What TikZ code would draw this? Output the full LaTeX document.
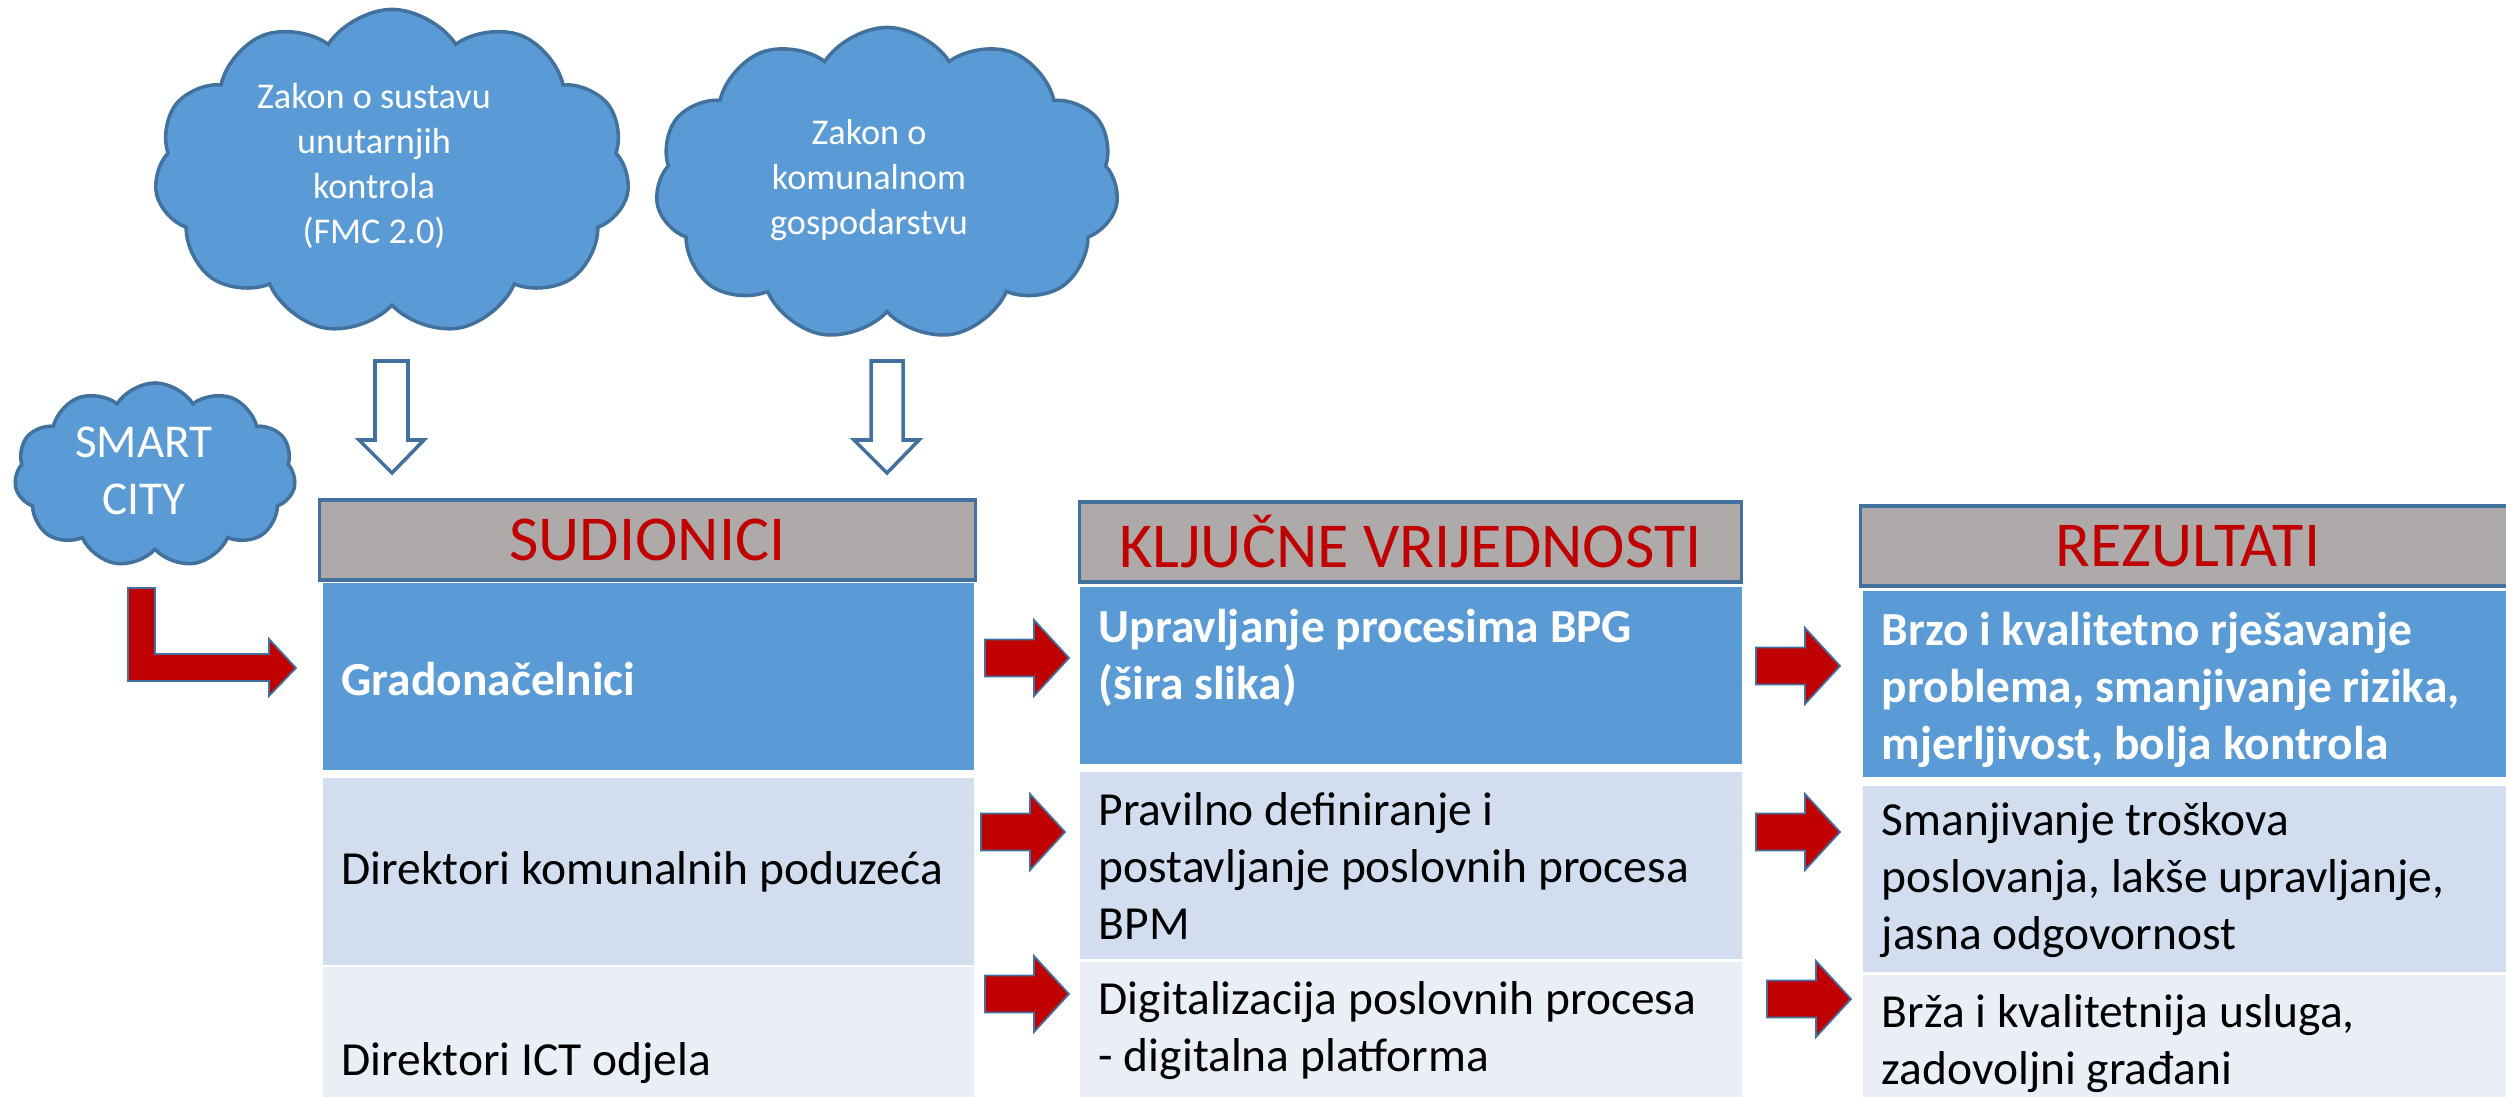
\documentclass[tikz,border=0pt]{standalone}
\usepackage{fontspec}
\setmainfont{Carlito}
\usetikzlibrary{shapes.symbols}
\definecolor{cloudblue}{HTML}{5B9BD5}
\definecolor{edgeblue}{HTML}{41719C}
\definecolor{hdrgray}{HTML}{AEAAAA}
\definecolor{darkred}{HTML}{C00000}
\definecolor{rowmid}{HTML}{D2DEEF}
\definecolor{rowlight}{HTML}{EAEFF7}
\begin{document}
\begin{tikzpicture}[x=0.01cm,y=-0.01cm,
  cloudshape/.style={cloud, cloud puffs=11, cloud puff arc=115, cloud ignores aspect, fill=cloudblue, draw=edgeblue, line width=1pt, inner sep=0pt, outer sep=0pt},
  cloudtext/.style={text=white, align=center, inner sep=0pt, font=\fontsize{10.3}{12.8}\selectfont},
  hdr/.style={rectangle, fill=hdrgray, draw=edgeblue, line width=0.9pt, text=darkred, inner sep=0pt, outer sep=0pt, font=\fontsize{18.2}{20}\selectfont},
  rowbox/.style={rectangle, anchor=north west, inner sep=0pt, outer sep=0pt},
  rowtext/.style={anchor=west, inner sep=0pt, align=left, font=\fontsize{13.5}{16.2}\selectfont},
  hollowarr/.style={fill=white, draw=edgeblue, line width=1pt, line join=miter},
  redarr/.pic={\path[fill=darkred, draw=edgeblue, line width=0.5pt] (0,-18.5) -- (49,-18.5) -- (49,-38) -- (84,0) -- (49,38) -- (49,18.5) -- (0,18.5) -- cycle;}
]
\useasboundingbox (0,0) rectangle (2506,1097);
\clip (0,0) rectangle (2506,1097);

% clouds
\node[cloudshape, minimum width=4.75cm, minimum height=3.25cm] (c1) at (392,172) {};
\node[cloudtext] (c1t) at (374,166) {Zakon o sustavu\\unutarnjih\\kontrola\\(FMC 2.0)};
\node[cloudshape, minimum width=4.63cm, minimum height=3.13cm] (c2) at (887,184) {};
\node[cloudtext] (c2t) at (869,180) {Zakon o\\komunalnom\\gospodarstvu};
\node[cloudshape, minimum width=2.81cm, minimum height=1.84cm] (c3) at (155,475) {};
\node[cloudtext, font=\fontsize{13.4}{16.2}\selectfont] (c3t) at (144,471) {SMART\\CITY};

% hollow arrows
\path[hollowarr] (375,361) -- (408,361) -- (408,440) -- (424,440) -- (392,473) -- (359,440) -- (375,440) -- cycle;
\path[hollowarr] (871,361) -- (903,361) -- (903,440) -- (919,440) -- (887,473) -- (854,440) -- (871,440) -- cycle;

% headers
\node[hdr, minimum width=6.55cm, minimum height=0.8cm] (h1) at (647.5,540) {SUDIONICI};
\node[hdr, minimum width=6.61cm, minimum height=0.8cm] (h2) at (1410.5,542) {KLJUČNE VRIJEDNOSTI};
\node[hdr, minimum width=6.54cm, minimum height=0.8cm] (h3) at (2188,546) {REZULTATI};

% column 1
\node[rowbox, fill=cloudblue, minimum width=6.51cm, minimum height=1.87cm] (r11) at (323,583) {};
\node[rowbox, fill=rowmid, minimum width=6.51cm, minimum height=1.87cm] (r12) at (323,778) {};
\node[rowbox, fill=rowlight, minimum width=6.51cm, minimum height=1.9cm] (r13) at (323,967) {};
\node[rowtext, text=white, font=\fontsize{13.5}{16.2}\selectfont\bfseries] (t11) at (341,679) {Gradonačelnici};
\node[rowtext] (t12) at (341,872) {Direktori komunalnih poduzeća};
\node[rowtext] (t13) at (341,1063) {Direktori ICT odjela};

% column 2
\node[rowbox, fill=cloudblue, minimum width=6.62cm, minimum height=1.77cm] (r21) at (1080,587) {};
\node[rowbox, fill=rowmid, minimum width=6.62cm, minimum height=1.87cm] (r22) at (1080,772) {};
\node[rowbox, fill=rowlight, minimum width=6.62cm, minimum height=1.9cm] (r23) at (1080,962) {};
\node[rowtext, text=white, font=\fontsize{13.5}{16.2}\selectfont\bfseries] (t21) at (1098,658) {Upravljanje procesima BPG\\(šira slika)};
\node[rowtext] (t22) at (1098,866) {Pravilno definiranje i\\postavljanje poslovnih procesa\\BPM};
\node[rowtext] (t23) at (1098,1031) {Digitalizacija poslovnih procesa\\- digitalna platforma};

% column 3
\node[rowbox, fill=cloudblue, minimum width=6.52cm, minimum height=1.86cm] (r31) at (1863,591) {};
\node[rowbox, fill=rowmid, minimum width=6.52cm, minimum height=1.86cm] (r32) at (1863,786) {};
\node[rowbox, fill=rowlight, minimum width=6.52cm, minimum height=1.9cm] (r33) at (1863,975) {};
\node[rowtext, text=white, font=\fontsize{13.5}{16.2}\selectfont\bfseries] (t31) at (1881,690) {Brzo i kvalitetno rješavanje\\problema, smanjivanje rizika,\\mjerljivost, bolja kontrola};
\node[rowtext] (t32) at (1881,880) {Smanjivanje troškova\\poslovanja, lakše upravljanje,\\jasna odgovornost};
\node[rowtext] (t33) at (1881,1044) {Brža i kvalitetnija usluga,\\zadovoljni građani};

% red arrows
\pic at (985,658) {redarr};
\pic at (981,832) {redarr};
\pic at (985,994) {redarr};
\pic at (1756,666) {redarr};
\pic at (1756,832) {redarr};
\pic at (1767,999) {redarr};

% L-shaped arrow from SMART CITY
\path[fill=darkred, draw=edgeblue, line width=0.5pt] (128,588) -- (155,588) -- (155,654) -- (269,654) -- (269,639) -- (296,668) -- (269,696) -- (269,681) -- (128,681) -- cycle;
\end{tikzpicture}
\end{document}
